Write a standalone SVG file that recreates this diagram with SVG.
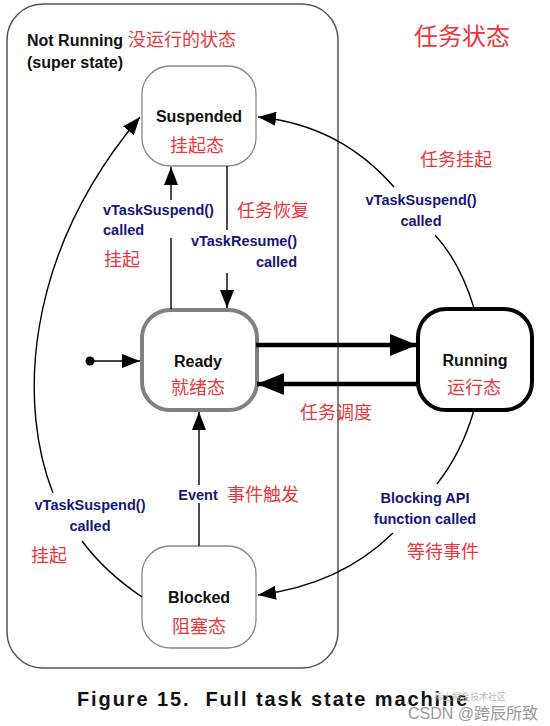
<svg xmlns="http://www.w3.org/2000/svg" width="550" height="726" viewBox="0 0 550 726">
<style>
.en{font-family:"Liberation Sans",Arial,sans-serif;font-weight:bold;font-size:16px;fill:#111}
.lb{font-family:"Liberation Sans",Arial,sans-serif;font-weight:bold;font-size:14.5px;fill:#16167a}
.cn{font-family:"Noto Sans CJK SC","Noto Sans",sans-serif;font-size:18px;fill:#e8383d}
.thin{fill:none;stroke:#000;stroke-width:1.4}
.thick{fill:none;stroke:#000;stroke-width:4.5}
</style>
<defs>
<marker id="ah" markerUnits="userSpaceOnUse" markerWidth="20" markerHeight="14" refX="18" refY="7" orient="auto">
<path d="M0,0 L18,7 L0,14 Z" fill="#000"/>
</marker>
<marker id="ahb" markerUnits="userSpaceOnUse" markerWidth="28" markerHeight="22" refX="27" refY="11" orient="auto">
<path d="M0,0 L27,11 L0,22 Z" fill="#000"/>
</marker>
</defs>
<rect width="550" height="726" fill="#fff"/>
<g id="superstate">
<rect x="7" y="4" width="331" height="664" rx="36" fill="none" stroke="#555" stroke-width="1.5"/>
<text class="en" x="27" y="46">Not Running</text>
<text class="en" x="27" y="68">(super state)</text>
<text class="cn" x="128" y="46">没运行的状态</text>
</g>
<text class="cn" x="414" y="45" style="font-size:24px">任务状态</text>
<g id="suspended">
<rect x="142" y="66" width="114" height="100" rx="28" fill="#fff" stroke="#888" stroke-width="1.3"/>
<text class="en" x="199" y="122" text-anchor="middle">Suspended</text>
<text class="cn" x="197" y="152" text-anchor="middle">挂起态</text>
</g>
<g id="ready">
<rect x="142" y="310" width="115" height="100" rx="28" fill="#fff" stroke="#808080" stroke-width="4"/>
<text class="en" x="198" y="367" text-anchor="middle">Ready</text>
<text class="cn" x="198" y="394" text-anchor="middle">就绪态</text>
</g>
<g id="running">
<rect x="418" y="309" width="114" height="101" rx="28" fill="#fff" stroke="#000" stroke-width="4"/>
<text class="en" x="475" y="366" text-anchor="middle">Running</text>
<text class="cn" x="474" y="394" text-anchor="middle">运行态</text>
</g>
<g id="blocked">
<rect x="142" y="546" width="114" height="102" rx="28" fill="#fff" stroke="#888" stroke-width="1.3"/>
<text class="en" x="199" y="603" text-anchor="middle">Blocked</text>
<text class="cn" x="199" y="633" text-anchor="middle">阻塞态</text>
</g>
<g id="connectors">
<circle cx="90" cy="361" r="4.5" fill="#000"/>
<path class="thin" d="M90,361 L140,361" marker-end="url(#ah)"/>
<path class="thin" d="M171,309 L171,238"/>
<path class="thin" d="M171,200 L171,167" marker-end="url(#ah)"/>
<path class="thin" d="M227,166 L227,230"/>
<path class="thin" d="M227,273 L227,308" marker-end="url(#ah)"/>
<path class="thick" d="M256,345 L417,345" marker-end="url(#ahb)"/>
<path class="thick" d="M418,384 L257,384" marker-end="url(#ahb)"/>
<path class="thin" d="M199,546 L199,503"/>
<path class="thin" d="M199,485 L199,412" marker-end="url(#ah)"/>
<path class="thin" d="M474,308 Q460,262 435,235"/>
<path class="thin" d="M394,187 Q340,125 258,117" marker-end="url(#ah)"/>
<path class="thin" d="M474,410 Q462,452 437,484"/>
<path class="thin" d="M393,533 Q340,585 258,595" marker-end="url(#ah)"/>
<path class="thin" d="M142,597 Q105,572 82,541"/>
<path class="thin" d="M53,493 C20,410 20,260 140,117" marker-end="url(#ah)"/>
</g>
<g id="labels">
<text class="lb" x="103" y="215">vTaskSuspend()</text>
<text class="lb" x="103" y="235">called</text>
<text class="cn" x="104" y="266">挂起</text>
<text class="cn" x="237" y="217">任务恢复</text>
<text class="lb" x="297" y="246" text-anchor="end">vTaskResume()</text>
<text class="lb" x="297" y="267" text-anchor="end">called</text>
<text class="lb" x="421" y="205" text-anchor="middle">vTaskSuspend()</text>
<text class="lb" x="421" y="226" text-anchor="middle">called</text>
<text class="cn" x="420" y="166">任务挂起</text>
<text class="cn" x="300" y="419">任务调度</text>
<text class="lb" x="198" y="500" text-anchor="middle">Event</text>
<text class="cn" x="227" y="501">事件触发</text>
<text class="lb" x="425" y="503" text-anchor="middle">Blocking API</text>
<text class="lb" x="425" y="524" text-anchor="middle">function called</text>
<text class="cn" x="407" y="558">等待事件</text>
<text class="lb" x="90" y="510" text-anchor="middle">vTaskSuspend()</text>
<text class="lb" x="90" y="531" text-anchor="middle">called</text>
<text class="cn" x="31" y="562">挂起</text>
</g>
<text x="77" y="706" style="font-family:'Liberation Sans',Arial,sans-serif;font-weight:bold;font-size:20px;letter-spacing:1.9px;fill:#111;white-space:pre" xml:space="preserve">Figure 15.  Full task state machine</text>
<text x="470" y="700" text-anchor="middle" style="font-family:'Noto Sans CJK SC',sans-serif;font-size:9px;fill:#bbb">稀土掘金技术社区</text>
<text x="538" y="719" text-anchor="end" style="font-family:'Liberation Sans','Noto Sans CJK SC',sans-serif;font-size:16px;fill:#999">CSDN @跨辰所致</text>
</svg>
